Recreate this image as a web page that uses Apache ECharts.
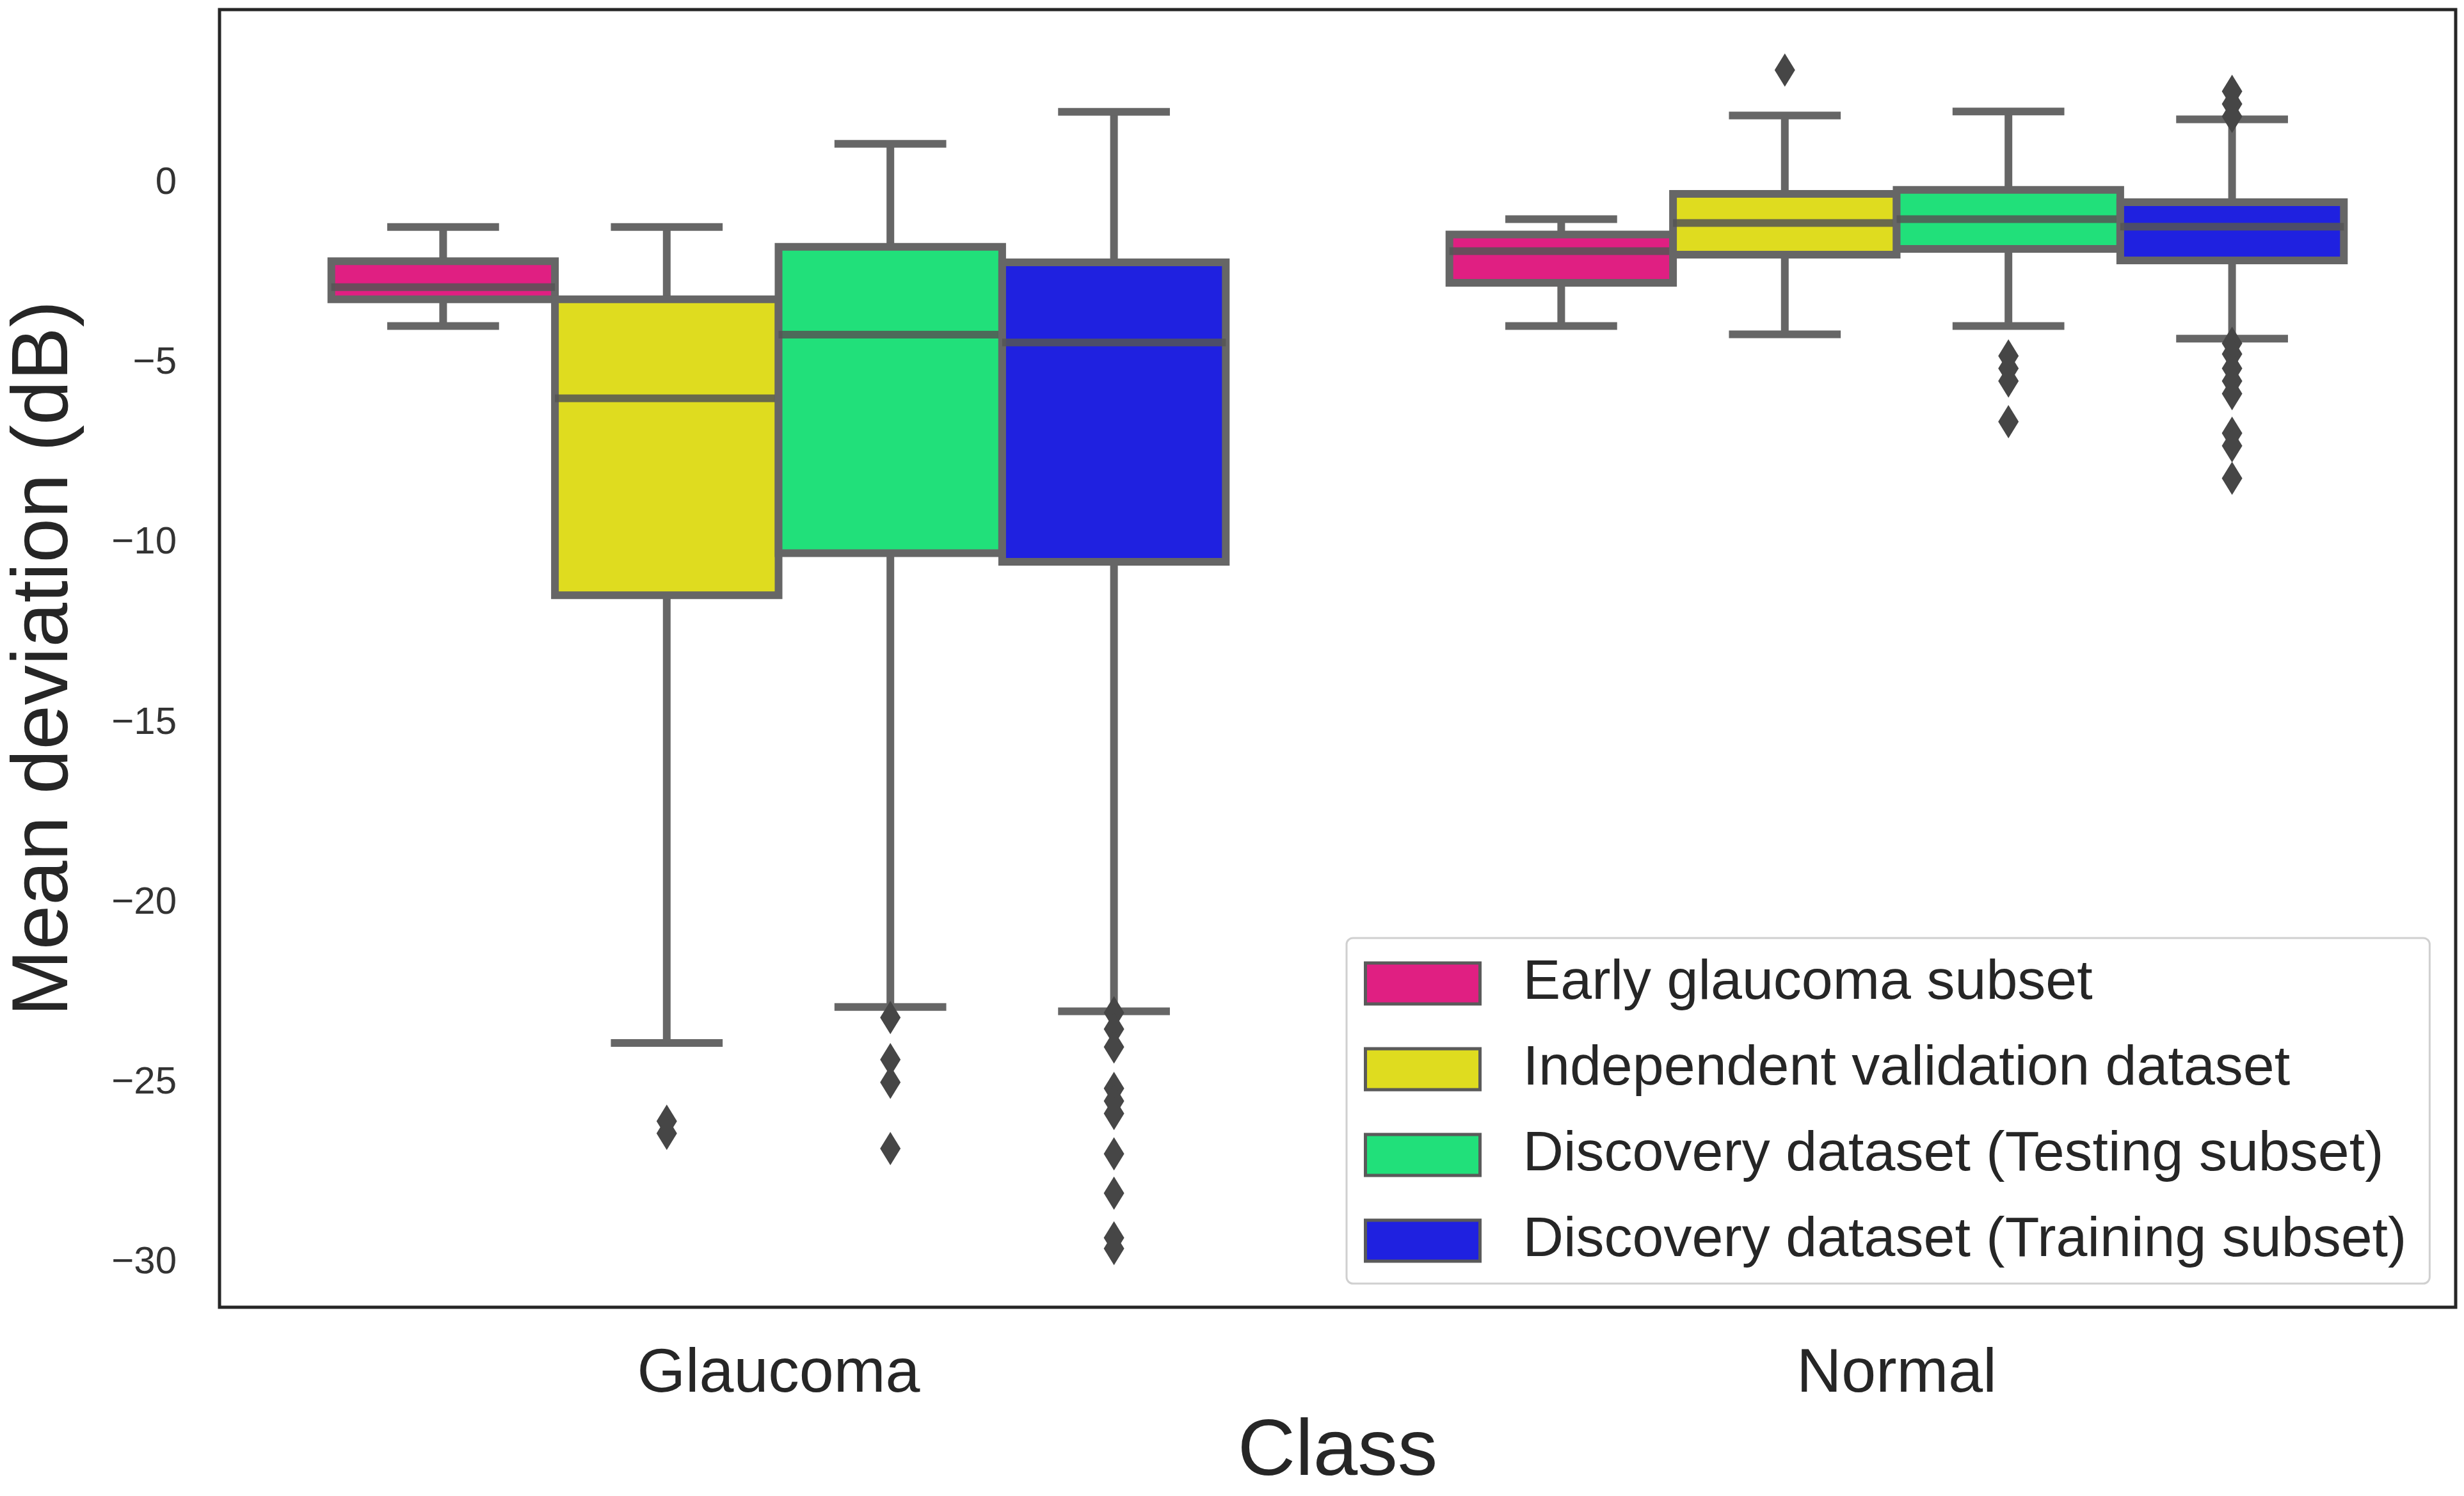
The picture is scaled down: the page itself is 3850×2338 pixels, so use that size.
<!DOCTYPE html>
<html><head><meta charset="utf-8">
<script src="https://cdn.jsdelivr.net/npm/echarts@6/dist/echarts.min.js"></script>
<style>html,body{margin:0;padding:0;background:#fff}#chart{width:3850px;height:2338px}</style>
</head><body><div id="chart"></div>
<script>
const categories = ['Glaucoma', 'Normal'];
const seriesNames = [
  'Early glaucoma subset',
  'Independent validation dataset',
  'Discovery dataset (Testing subset)',
  'Discovery dataset (Training subset)'
];
const seriesColors = ['#E01F82', '#DFDC1F', '#21E07A', '#1F21E0'];
const yTicks = [-30, -25, -20, -15, -10, -5, 0];

// five-number summaries per category: [lower whisker, Q1, median, Q3, upper whisker]
const earlyGlaucomaBox = [[-3.97, -3.23, -2.89, -2.17, -1.22], [-3.97, -2.77, -1.89, -1.43, -1.00]];
const independentValidationBox = [[-23.89, -11.45, -5.98, -3.23, -1.22], [-4.20, -1.99, -1.11, -0.30, 1.88]];
const discoveryTestingBox = [[-22.89, -10.28, -4.21, -1.77, 1.09], [-3.97, -1.83, -1.00, -0.19, 1.99]];
const discoveryTrainingBox = [[-23.01, -10.52, -4.43, -2.20, 1.98], [-4.32, -2.15, -1.21, -0.53, 1.77]];

// outliers per category
const earlyGlaucomaOutliers = [[], []];
const independentValidationOutliers = [[-26.06, -26.40], [3.14]];
const discoveryTestingOutliers = [[-23.18, -24.35, -24.98, -26.82], [-4.80, -5.15, -5.50, -6.63]];
const discoveryTrainingOutliers = [
  [-23.05, -23.50, -24.00, -25.15, -25.50, -25.85, -26.97, -28.06, -29.30, -29.60],
  [2.55, 2.20, 1.85, -4.45, -4.75, -5.15, -5.50, -5.85, -6.95, -7.30, -8.20]
];

const boxSets = [earlyGlaucomaBox, independentValidationBox, discoveryTestingBox, discoveryTrainingBox];
const outlierSets = [earlyGlaucomaOutliers, independentValidationOutliers, discoveryTestingOutliers, discoveryTrainingOutliers];

const EDGE = '#666666';
const LW = 12;

function makeBoxRender(k) {
  return function (params, api) {
    const cat = api.value(0);
    const band = api.size([1, 0])[0];
    const w = band * 0.8 / 4;
    const cx = api.coord([cat, 0])[0] + (k - 1.5) * w;
    const y = function (v) { return api.coord([cat, v])[1]; };
    const lo = y(api.value(1)), q1 = y(api.value(2)), md = y(api.value(3)), q3 = y(api.value(4)), hi = y(api.value(5));
    const cap = w / 4;
    const ls = { stroke: EDGE, lineWidth: LW };
    return {
      type: 'group',
      children: [
        { type: 'line', shape: { x1: cx, y1: q1, x2: cx, y2: lo }, style: ls },
        { type: 'line', shape: { x1: cx, y1: q3, x2: cx, y2: hi }, style: ls },
        { type: 'line', shape: { x1: cx - cap, y1: lo, x2: cx + cap, y2: lo }, style: ls },
        { type: 'line', shape: { x1: cx - cap, y1: hi, x2: cx + cap, y2: hi }, style: ls },
        { type: 'rect', shape: { x: cx - w / 2, y: q3, width: w, height: q1 - q3 },
          style: { fill: seriesColors[k], stroke: EDGE, lineWidth: LW } },
        { type: 'line', shape: { x1: cx - w / 2, y1: md, x2: cx + w / 2, y2: md },
          style: { stroke: 'rgba(85,85,85,0.85)', lineWidth: LW } }
      ]
    };
  };
}

function makeOutlierRender(k) {
  return function (params, api) {
    const cat = api.value(0);
    const band = api.size([1, 0])[0];
    const w = band * 0.8 / 4;
    const p = api.coord([cat, api.value(1)]);
    const cx = p[0] + (k - 1.5) * w;
    const cy = p[1];
    const hw = 16, hh = 26;
    return {
      type: 'polygon',
      shape: { points: [[cx, cy - hh], [cx + hw, cy], [cx, cy + hh], [cx - hw, cy]] },
      style: { fill: '#464646' }
    };
  };
}

const series = [];
boxSets.forEach(function (set, k) {
  series.push({
    type: 'custom',
    name: seriesNames[k],
    renderItem: makeBoxRender(k),
    encode: { x: 0, y: [1, 2, 3, 4, 5] },
    itemStyle: { color: seriesColors[k], borderColor: '#5a5a5a', borderWidth: 5 },
    data: set.map(function (r, i) { return [i].concat(r); }),
    z: 2
  });
});
outlierSets.forEach(function (set, k) {
  const pts = [];
  set.forEach(function (vals, i) { vals.forEach(function (v) { pts.push([i, v]); }); });
  series.push({
    type: 'custom',
    name: 'outliers ' + k,
    renderItem: makeOutlierRender(k),
    encode: { x: 0, y: 1 },
    data: pts,
    z: 3
  });
});

const FONT = 'Liberation Sans, Arial, sans-serif';
const chart = echarts.init(document.getElementById('chart'), null, { renderer: 'canvas' });
chart.setOption({
  animation: false,
  backgroundColor: '#ffffff',
  textStyle: { fontFamily: FONT },
  grid: { left: 335, top: 15, width: 3502, height: 2043, show: true, borderColor: '#262626', borderWidth: 5, backgroundColor: 'transparent' },
  xAxis: {
    type: 'category',
    data: categories,
    axisLine: { show: false },
    axisTick: { show: false },
    splitLine: { show: false },
    axisLabel: { fontSize: 97, color: '#262626', margin: 57, fontFamily: FONT },
    name: 'Class',
    nameLocation: 'middle',
    nameGap: 165,
    nameTextStyle: { fontSize: 125, color: '#262626', fontFamily: FONT }
  },
  yAxis: {
    type: 'value',
    min: -31.23,
    max: 4.82,
    axisLine: { show: false },
    axisTick: { show: false },
    splitLine: { show: false },
    axisLabel: {
      customValues: yTicks,
      fontSize: 60, color: '#333333', margin: 67, fontFamily: FONT,
      formatter: function (v) { return String(v).replace('-', '\u2212'); }
    },
    name: 'Mean deviation (dB)',
    nameLocation: 'middle',
    nameGap: 210,
    nameTextStyle: { fontSize: 125, color: '#262626', fontFamily: FONT }
  },
  legend: {
    orient: 'vertical',
    left: 2104,
    top: 1466,
    padding: [27, 36, 23, 27],
    itemWidth: 179,
    itemHeight: 64,
    itemGap: 46,
    icon: 'rect',
    backgroundColor: '#ffffff',
    borderColor: '#d0d0d0',
    borderWidth: 3,
    borderRadius: 10,
    textStyle: { fontSize: 88, color: '#262626', fontFamily: FONT, padding: [0, 0, 0, 62] },
    data: seriesNames.map(function (n, i) {
      return { name: n, itemStyle: { color: seriesColors[i], borderColor: '#5a5a5a', borderWidth: 5 } };
    })
  },
  series: series
});
</script></body></html>
